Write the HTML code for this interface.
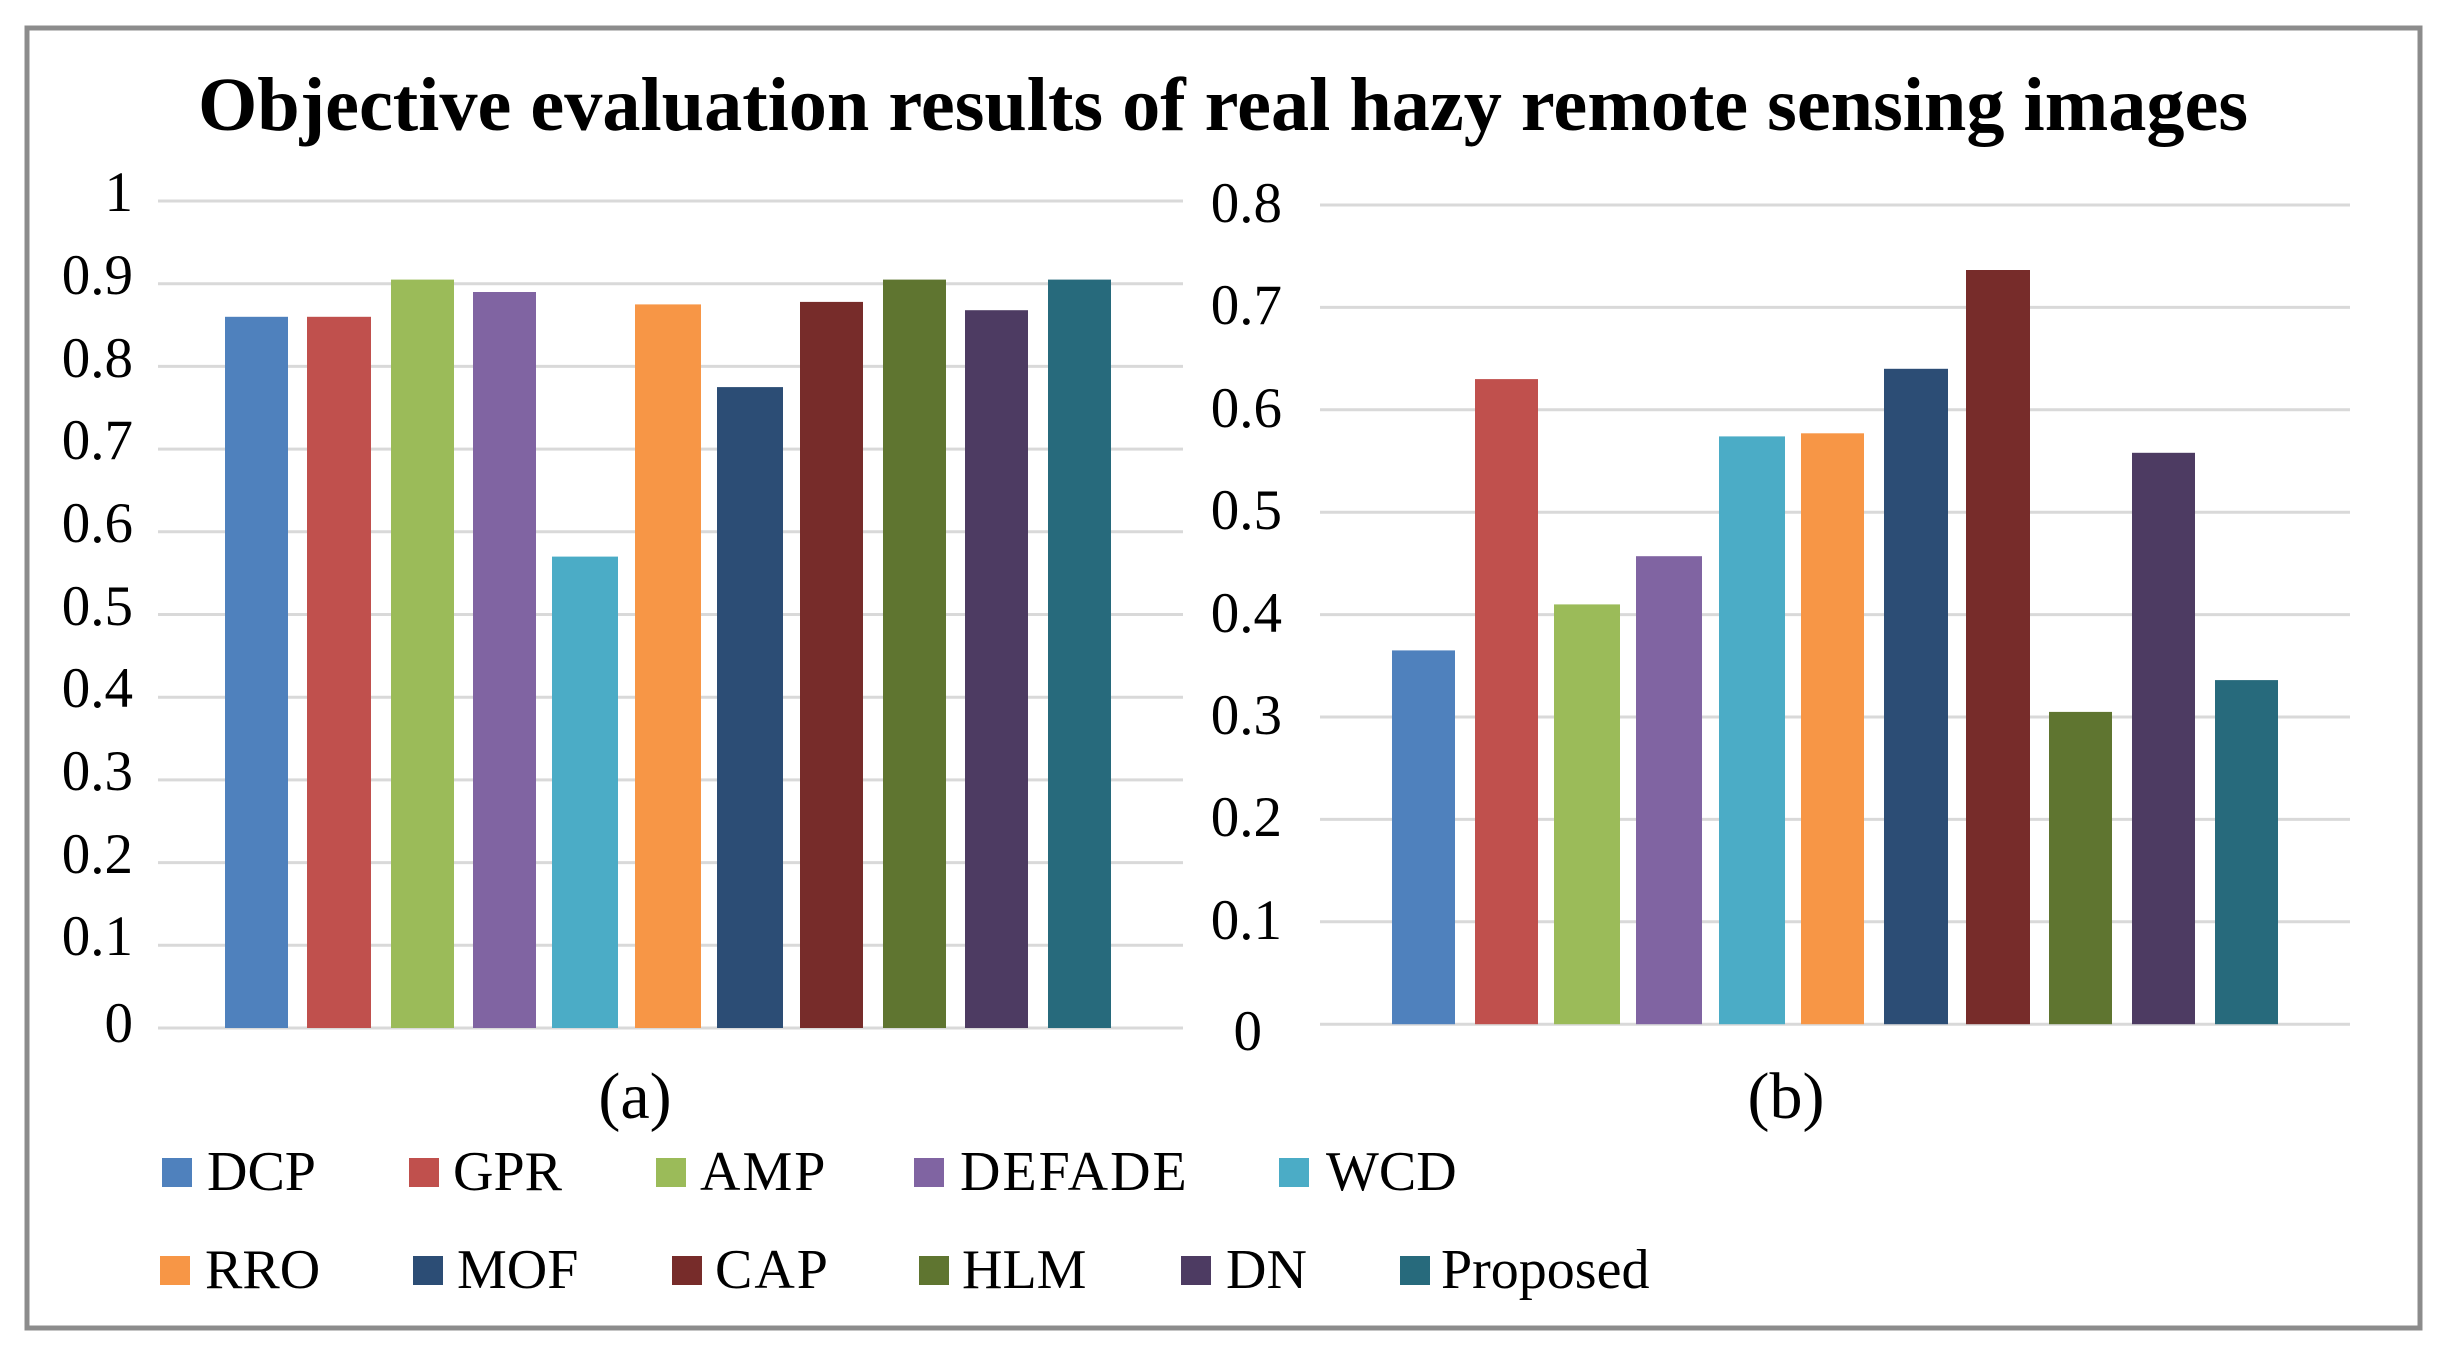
<!DOCTYPE html>
<html><head><meta charset="utf-8"><style>
html,body{margin:0;padding:0;background:#fff}
svg{display:block}
text{font-family:"Liberation Serif",serif;fill:#000}
</style></head><body>
<svg width="2452" height="1350" viewBox="0 0 2452 1350" xmlns="http://www.w3.org/2000/svg">
<rect x="0" y="0" width="2452" height="1350" fill="#fff"/>
<rect x="27" y="28" width="2393" height="1300" fill="none" stroke="#8c8c8c" stroke-width="5"/>
<text x="198" y="130" font-size="76" font-weight="bold" textLength="2050" lengthAdjust="spacingAndGlyphs">Objective evaluation results of real hazy remote sensing images</text>

<g stroke="#d9d9d9" stroke-width="3">
<line x1="158" x2="1183" y1="201" y2="201"/>
<line x1="158" x2="1183" y1="283.7" y2="283.7"/>
<line x1="158" x2="1183" y1="366.4" y2="366.4"/>
<line x1="158" x2="1183" y1="449.1" y2="449.1"/>
<line x1="158" x2="1183" y1="531.8" y2="531.8"/>
<line x1="158" x2="1183" y1="614.5" y2="614.5"/>
<line x1="158" x2="1183" y1="697.2" y2="697.2"/>
<line x1="158" x2="1183" y1="779.9" y2="779.9"/>
<line x1="158" x2="1183" y1="862.6" y2="862.6"/>
<line x1="158" x2="1183" y1="945.3" y2="945.3"/>
<line x1="158" x2="1183" y1="1028" y2="1028"/>
</g>
<g font-size="57" text-anchor="end">
<text x="133" y="211">1</text>
<text x="133" y="294">0.9</text>
<text x="133" y="377">0.8</text>
<text x="133" y="459">0.7</text>
<text x="133" y="542">0.6</text>
<text x="133" y="625">0.5</text>
<text x="133" y="707">0.4</text>
<text x="133" y="790">0.3</text>
<text x="133" y="873">0.2</text>
<text x="133" y="955">0.1</text>
<text x="133" y="1042">0</text>
</g>
<g>
<rect x="225" y="316.8" width="63" height="711.2" fill="#4f81bd"/>
<rect x="307" y="316.8" width="64" height="711.2" fill="#c0504d"/>
<rect x="391" y="279.6" width="63" height="748.4" fill="#9bbb59"/>
<rect x="473" y="292" width="63" height="736" fill="#8064a2"/>
<rect x="552" y="556.6" width="66" height="471.4" fill="#4bacc6"/>
<rect x="635" y="304.4" width="66" height="723.6" fill="#f79646"/>
<rect x="717" y="387.1" width="66" height="640.9" fill="#2c4d75"/>
<rect x="800" y="301.9" width="63" height="726.1" fill="#772c2a"/>
<rect x="883" y="279.6" width="63" height="748.4" fill="#5f7530"/>
<rect x="965" y="310.2" width="63" height="717.8" fill="#4d3b62"/>
<rect x="1048" y="279.6" width="63" height="748.4" fill="#276a7c"/>
</g>
<text x="635" y="1118" font-size="66" text-anchor="middle">(a)</text>

<g stroke="#d9d9d9" stroke-width="3">
<line x1="1320" x2="2350" y1="205" y2="205"/>
<line x1="1320" x2="2350" y1="307.4" y2="307.4"/>
<line x1="1320" x2="2350" y1="409.8" y2="409.8"/>
<line x1="1320" x2="2350" y1="512.2" y2="512.2"/>
<line x1="1320" x2="2350" y1="614.6" y2="614.6"/>
<line x1="1320" x2="2350" y1="717" y2="717"/>
<line x1="1320" x2="2350" y1="819.4" y2="819.4"/>
<line x1="1320" x2="2350" y1="921.8" y2="921.8"/>
<line x1="1320" x2="2350" y1="1024.2" y2="1024.2"/>
</g>
<g font-size="57" text-anchor="end">
<text x="1282" y="222">0.8</text>
<text x="1282" y="324">0.7</text>
<text x="1282" y="427">0.6</text>
<text x="1282" y="529">0.5</text>
<text x="1282" y="632">0.4</text>
<text x="1282" y="734">0.3</text>
<text x="1282" y="836">0.2</text>
<text x="1282" y="939">0.1</text>
<text x="1262" y="1050">0</text>
</g>
<g>
<rect x="1392" y="650.4" width="63" height="373.8" fill="#4f81bd"/>
<rect x="1475" y="379.1" width="63" height="645.1" fill="#c0504d"/>
<rect x="1554" y="604.4" width="66" height="419.8" fill="#9bbb59"/>
<rect x="1636" y="556.2" width="66" height="468" fill="#8064a2"/>
<rect x="1719" y="436.4" width="66" height="587.8" fill="#4bacc6"/>
<rect x="1801" y="433.3" width="63" height="590.9" fill="#f79646"/>
<rect x="1884" y="368.8" width="64" height="655.4" fill="#2c4d75"/>
<rect x="1966" y="270" width="64" height="754.2" fill="#772c2a"/>
<rect x="2049" y="711.9" width="63" height="312.3" fill="#5f7530"/>
<rect x="2132" y="452.8" width="63" height="571.4" fill="#4d3b62"/>
<rect x="2215" y="680.1" width="63" height="344.1" fill="#276a7c"/>
</g>
<text x="1786" y="1118" font-size="66" text-anchor="middle">(b)</text>

<g font-size="56">
<rect x="162" y="1158" width="30" height="29" fill="#4f81bd"/><text x="207" y="1190">DCP</text>
<rect x="409" y="1158" width="30" height="29" fill="#c0504d"/><text x="453" y="1190">GPR</text>
<rect x="656" y="1158" width="30" height="29" fill="#9bbb59"/><text x="700" y="1190" letter-spacing="2">AMP</text>
<rect x="914" y="1158" width="30" height="29" fill="#8064a2"/><text x="960" y="1190" letter-spacing="2">DEFADE</text>
<rect x="1279" y="1158" width="30" height="29" fill="#4bacc6"/><text x="1326" y="1190">WCD</text>

<rect x="160" y="1256" width="30" height="29" fill="#f79646"/><text x="205" y="1288">RRO</text>
<rect x="413" y="1256" width="30" height="29" fill="#2c4d75"/><text x="457" y="1288">MOF</text>
<rect x="672" y="1256" width="30" height="29" fill="#772c2a"/><text x="715" y="1288" letter-spacing="2">CAP</text>
<rect x="919" y="1256" width="30" height="29" fill="#5f7530"/><text x="962" y="1288">HLM</text>
<rect x="1181" y="1256" width="30" height="29" fill="#4d3b62"/><text x="1226" y="1288">DN</text>
<rect x="1400" y="1256" width="30" height="29" fill="#276a7c"/><text x="1441" y="1288">Proposed</text>
</g>
</svg>
</body></html>
